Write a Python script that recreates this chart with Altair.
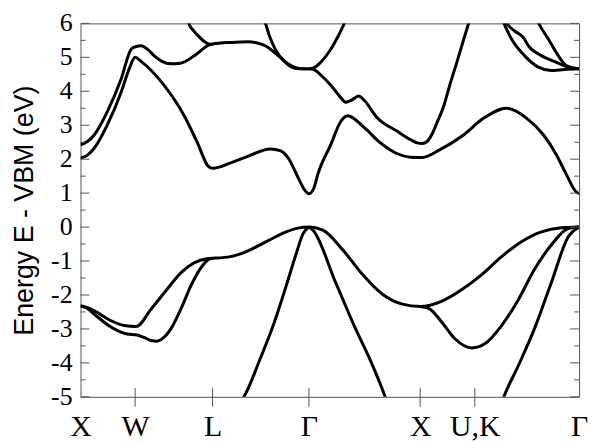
import altair as alt
import pandas as pd

# high-symmetry points along the k-path
sym_k = [0.0, 0.55, 1.33, 2.30, 3.42, 3.97, 5.02]
sym_labels = ["X", "W", "L", "Γ", "X", "U,K", "Γ"]

y_major = [-5, -4, -3, -2, -1, 0, 1, 2, 3, 4, 5, 6]
y_major_labels = ["-5", "-4", "-3", "-2", "-1", "0", "1", "2", "3", "4", "5", "6"]
y_minor = [-4.5, -3.5, -2.5, -1.5, -0.5, 0.5, 1.5, 2.5, 3.5, 4.5, 5.5]

# conduction bands
c1_k = [0.00, 0.07, 0.14, 0.27, 0.41, 0.49, 0.55, 0.61, 0.84, 1.04, 1.17, 1.29, 1.33, 1.52, 1.69, 1.91, 2.01,
        2.09, 2.19, 2.25, 2.30, 2.35, 2.39, 2.52, 2.62, 2.69, 2.86, 3.02, 3.19, 3.32, 3.44, 3.62, 3.86, 4.06,
        4.29, 4.49, 4.66, 4.79, 4.89, 4.99, 5.02]
c1_e = [2.03, 2.12, 2.33, 3.01, 3.98, 4.66, 5.00, 4.88, 4.18, 3.30, 2.53, 1.78, 1.73, 1.90, 2.09, 2.30, 2.25,
        2.04, 1.46, 1.12, 0.98, 1.15, 1.56, 2.43, 3.11, 3.28, 2.92, 2.48, 2.16, 2.06, 2.05, 2.28, 2.72, 3.21,
        3.50, 3.21, 2.72, 2.14, 1.56, 1.04, 0.98]

c2_k = [0.00, 0.07, 0.14, 0.27, 0.41, 0.51, 0.56, 0.61, 0.67, 0.74, 0.82, 0.91, 0.99, 1.04, 1.17, 1.29, 1.33,
        1.52, 1.69, 1.77, 1.86, 1.99, 2.09, 2.19, 2.30]
c2_e = [2.42, 2.52, 2.72, 3.40, 4.37, 5.24, 5.32, 5.34, 5.25, 5.05, 4.88, 4.81, 4.82, 4.86, 5.10, 5.36, 5.39,
        5.44, 5.46, 5.43, 5.34, 5.05, 4.81, 4.68, 4.66]

c3_k = [1.07, 1.09, 1.14, 1.19, 1.24, 1.29, 1.33]
c3_e = [6.25, 6.00, 5.78, 5.62, 5.48, 5.39, 5.38]

c4_k = [1.84, 1.86, 1.90, 1.96, 2.06, 2.16, 2.24, 2.30]
c4_e = [6.15, 6.02, 5.65, 5.24, 4.86, 4.68, 4.66, 4.66]

c5_k = [2.30, 2.34, 2.42, 2.52, 2.59, 2.66, 2.68]
c5_e = [4.66, 4.68, 4.86, 5.24, 5.60, 6.02, 6.15]

c6_k = [2.30, 2.34, 2.43, 2.52, 2.61, 2.67, 2.73, 2.80, 2.86, 2.99, 3.19, 3.32, 3.39, 3.44, 3.49, 3.54, 3.59,
        3.66, 3.72, 3.79, 3.85, 3.91, 3.93]
c6_e = [4.66, 4.65, 4.45, 4.18, 3.85, 3.68, 3.74, 3.86, 3.72, 3.21, 2.82, 2.58, 2.48, 2.46, 2.52, 2.74, 3.08,
        3.59, 4.20, 4.86, 5.45, 6.02, 6.20]

c7_k = [4.24, 4.26, 4.34, 4.47, 4.61, 4.74, 4.87, 5.02]
c7_e = [6.15, 6.02, 5.54, 5.05, 4.71, 4.61, 4.64, 4.66]

c8_k = [4.27, 4.29, 4.37, 4.46, 4.51, 4.64, 4.77, 4.91, 5.02]
c8_e = [6.15, 6.02, 5.78, 5.58, 5.34, 5.05, 4.88, 4.71, 4.66]

c9_k = [4.59, 4.61, 4.71, 4.81, 4.89, 5.02]
c9_e = [6.15, 6.02, 5.54, 5.05, 4.76, 4.66]

# valence bands
v1_k = [0.00, 0.07, 0.14, 0.31, 0.44, 0.56, 0.71, 0.87, 1.01, 1.14, 1.27, 1.33, 1.51, 1.67, 1.87, 2.07, 2.19,
        2.30, 2.44, 2.64, 2.84, 3.04, 3.24, 3.42, 3.64, 3.84, 4.04, 4.24, 4.44, 4.64, 4.84, 5.02]
v1_e = [-2.32, -2.37, -2.47, -2.76, -2.90, -2.93, -2.42, -1.84, -1.35, -1.06, -0.93, -0.92, -0.87, -0.72,
        -0.43, -0.14, -0.03, 0.00, -0.09, -0.67, -1.40, -1.98, -2.27, -2.34, -2.18, -1.84, -1.40, -0.87,
        -0.43, -0.14, -0.02, 0.00]

v2_k = [0.00, 0.07, 0.14, 0.31, 0.47, 0.57, 0.64, 0.71, 0.77, 0.84, 0.91, 1.01, 1.11, 1.21, 1.29, 1.33]
v2_e = [-2.32, -2.40, -2.57, -2.95, -3.15, -3.18, -3.25, -3.34, -3.36, -3.25, -3.00, -2.42, -1.74, -1.21,
        -0.95, -0.92]

v3_k = [3.42, 3.51, 3.64, 3.77, 3.94, 4.07, 4.24, 4.41, 4.57, 4.74, 4.91, 5.02]
v3_e = [-2.34, -2.40, -2.81, -3.29, -3.56, -3.44, -2.90, -2.13, -1.25, -0.53, -0.04, 0.00]

v4_k = [1.62, 1.64, 1.81, 1.94, 2.07, 2.17, 2.24, 2.30]
v4_e = [-5.10, -5.02, -3.87, -2.90, -1.74, -0.80, -0.20, 0.00]

v5_k = [2.30, 2.34, 2.57, 2.77, 2.91, 3.07, 3.08]
v5_e = [0.00, -0.09, -1.64, -3.00, -3.87, -5.02, -5.10]

v6_k = [4.25, 4.26, 4.41, 4.57, 4.74, 4.91, 5.02]
v6_e = [-5.10, -5.02, -4.07, -3.00, -1.64, -0.29, 0.00]

bands = [
    ("c1", c1_k, c1_e), ("c2", c2_k, c2_e), ("c3", c3_k, c3_e), ("c4", c4_k, c4_e),
    ("c5", c5_k, c5_e), ("c6", c6_k, c6_e), ("c7", c7_k, c7_e), ("c8", c8_k, c8_e),
    ("c9", c9_k, c9_e), ("v1", v1_k, v1_e), ("v2", v2_k, v2_e), ("v3", v3_k, v3_e),
    ("v4", v4_k, v4_e), ("v5", v5_k, v5_e), ("v6", v6_k, v6_e),
]
rows = []
for name, ks, es in bands:
    for k, e in zip(ks, es):
        rows.append({"band": name, "k": k, "E": e})
df = pd.DataFrame(rows)

xscale = alt.Scale(domain=[sym_k[0], sym_k[-1]], nice=False, zero=False)
yscale = alt.Scale(domain=[y_major[0], y_major[-1]], nice=False, zero=False)

label_expr = ""
for kv, lab in zip(sym_k, sym_labels):
    label_expr += f"abs(datum.value - {kv}) < 0.01 ? '{lab}' : "
label_expr += "''"

AX_COL = "#555555"
W, H = 502, 376

lines = alt.Chart(df).mark_line(
    color="black", strokeWidth=3, interpolate="monotone", clip=True
).encode(
    x=alt.X("k:Q", scale=xscale, title="",
            axis=alt.Axis(values=sym_k, labelExpr=label_expr, ticks=False, domain=False, grid=False,
                          labelFont="Liberation Serif", labelFontSize=30, labelColor="black",
                          labelPadding=15, labelFlush=False, labelOverlap=False)),
    y=alt.Y("E:Q", scale=yscale, title="Energy E - VBM (eV)",
            axis=alt.Axis(values=y_major, ticks=False, domain=False, grid=False, labels=False,
                          titleFont="Liberation Sans", titleFontSize=27, titleFontWeight="normal",
                          titleColor="black", titlePadding=42)),
    detail="band:N",
)

ylab_df = pd.DataFrame({"E": y_major, "lab": y_major_labels})
ymaj_df = pd.DataFrame({"E": y_major})
ymin_df = pd.DataFrame({"E": y_minor})
xt_df = pd.DataFrame({"k": sym_k[1:-1]})

y_labels = alt.Chart(ylab_df).mark_text(
    font="Liberation Serif", fontSize=26, color="black", align="right", baseline="middle", dx=-8
).encode(y=alt.Y("E:Q", scale=yscale), x=alt.value(0), text="lab:N")

left_major = alt.Chart(ymaj_df).mark_rule(color=AX_COL, strokeWidth=1).encode(
    y=alt.Y("E:Q", scale=yscale), x=alt.value(0), x2=alt.value(9))
left_minor = alt.Chart(ymin_df).mark_rule(color=AX_COL, strokeWidth=1).encode(
    y=alt.Y("E:Q", scale=yscale), x=alt.value(0), x2=alt.value(5))
right_major = alt.Chart(ymaj_df).mark_rule(color=AX_COL, strokeWidth=1).encode(
    y=alt.Y("E:Q", scale=yscale), x=alt.value(W), x2=alt.value(W - 9))
right_minor = alt.Chart(ymin_df).mark_rule(color=AX_COL, strokeWidth=1).encode(
    y=alt.Y("E:Q", scale=yscale), x=alt.value(W), x2=alt.value(W - 5))
x_ticks = alt.Chart(xt_df).mark_rule(color=AX_COL, strokeWidth=1).encode(
    x=alt.X("k:Q", scale=xscale), y=alt.value(H - 9), y2=alt.value(H + 10))

chart = alt.layer(
    lines, y_labels, left_major, left_minor, right_major, right_minor, x_ticks
).properties(
    width=W, height=H,
    padding={"left": 73, "top": 14, "right": 13, "bottom": 44},
    autosize=alt.AutoSizeParams(type="none"),
    background="white",
).configure_view(
    stroke=AX_COL, strokeWidth=1
).configure_axis(
    labelOverlap=False, labelFlush=False
)

chart.save("out.html", embed_options={"renderer": "svg", "actions": False})
